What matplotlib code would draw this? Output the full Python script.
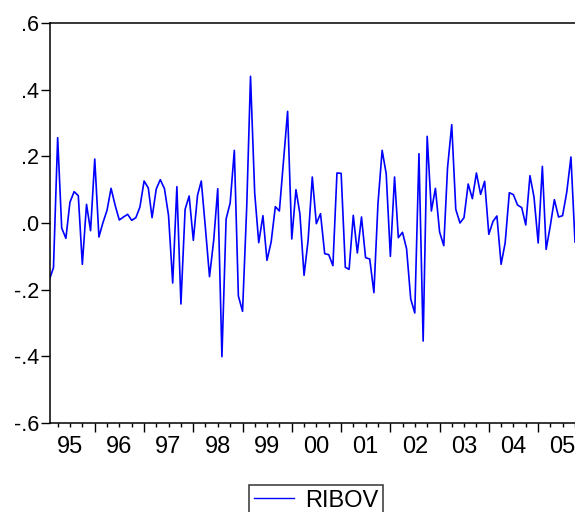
import pandas as pd
import matplotlib

matplotlib.use("Agg")
import matplotlib.pyplot as plt
import matplotlib.dates as mdates
from matplotlib.ticker import FixedLocator, FuncFormatter

plt.rcParams["font.family"] = ["Liberation Sans", "DejaVu Sans"]

# monthly returns, 1995M02 .. 2005M10
start_month = "1995-02-01"
ribov = [
    -0.167, -0.134, 0.256, -0.015, -0.046, 0.062, 0.094, 0.082, -0.124, 0.056, -0.023,
    0.192, -0.042, 0.000, 0.038, 0.104, 0.052, 0.009, 0.018, 0.026, 0.008, 0.016, 0.048,
    0.126, 0.105, 0.016, 0.102, 0.130, 0.103, 0.023, -0.180, 0.109, -0.243, 0.041, 0.081,
    -0.052, 0.083, 0.126, -0.017, -0.161, -0.052, 0.103, -0.401, 0.012, 0.060, 0.218, -0.219,
    -0.265, 0.050, 0.440, 0.090, -0.059, 0.022, -0.112, -0.057, 0.049, 0.036, 0.188, 0.335,
    -0.048, 0.100, 0.028, -0.157, -0.052, 0.138, -0.002, 0.028, -0.092, -0.095, -0.128, 0.150,
    0.149, -0.133, -0.139, 0.023, -0.090, 0.018, -0.104, -0.108, -0.209, 0.058, 0.218, 0.148,
    -0.100, 0.138, -0.044, -0.028, -0.077, -0.228, -0.270, 0.208, -0.354, 0.260, 0.036, 0.104,
    -0.027, -0.068, 0.166, 0.295, 0.041, 0.000, 0.016, 0.117, 0.073, 0.150, 0.086, 0.125,
    -0.034, 0.005, 0.021, -0.124, -0.060, 0.091, 0.085, 0.054, 0.046, -0.006, 0.142, 0.078,
    -0.060, 0.170, -0.079, -0.008, 0.070, 0.018, 0.022, 0.093, 0.198, -0.057,
]
y_ticks = [-0.6, -0.4, -0.2, 0.0, 0.2, 0.4, 0.6]
y_labels = ["-.6", "-.4", "-.2", ".0", ".2", ".4", ".6"]
years = list(range(1995, 2006))
year_labels = ["95", "96", "97", "98", "99", "00", "01", "02", "03", "04", "05"]

dates = pd.date_range(start_month, periods=len(ribov), freq="MS")

fig = plt.figure(figsize=(5.75, 5.12), dpi=100)
ax = fig.add_axes([49.7 / 575, 1 - 423 / 512, 1 - 49.7 / 575, 400 / 512])

ax.plot(dates, ribov, color="#0000ff", linewidth=1.2, label="RIBOV")

ax.set_xlim(dates[0], dates[-1])
ax.set_ylim(-0.6, 0.6)

for side in ["left", "top", "bottom"]:
    ax.spines[side].set_linewidth(1.1)
ax.spines["right"].set_visible(False)

ax.set_yticks(y_ticks)
ax.set_yticklabels(y_labels, fontsize=15.5)
ax.tick_params(axis="y", direction="out", length=6.3, width=1.0, pad=1.5)

# year boundaries as long ticks, quarters as short ticks, labels at mid-year
year_starts = [mdates.date2num(pd.Timestamp(f"{y}-01-01")) for y in years]
ax.xaxis.set_major_locator(FixedLocator(year_starts))
ax.xaxis.set_major_formatter(FuncFormatter(lambda v, p: ""))
quarters = []
for y in years:
    for m in (4, 7, 10):
        quarters.append(mdates.date2num(pd.Timestamp(f"{y}-{m:02d}-01")))
ax.xaxis.set_minor_locator(FixedLocator(quarters))
mid_labels = {mdates.date2num(pd.Timestamp(f"{y}-07-01")): lab for y, lab in zip(years, year_labels)}
ax.xaxis.set_minor_formatter(FuncFormatter(lambda v, p: mid_labels.get(v, "")))
ax.tick_params(axis="x", which="major", direction="out", length=6.5, width=1.0)
ax.tick_params(axis="x", which="minor", direction="out", length=3.2, width=1.0,
               labelsize=17, pad=6.5)

leg = fig.legend(loc="upper center", bbox_to_anchor=(316 / 575, 1 - 485 / 512),
                 fontsize=17, frameon=True, fancybox=False, borderpad=0.2,
                 handlelength=1.7, handletextpad=0.45, borderaxespad=0)
leg.get_frame().set_edgecolor("black")
leg.get_frame().set_linewidth(1.1)
for line in leg.get_lines():
    line.set_linewidth(1.0)

fig.savefig("out.png", dpi=100)
